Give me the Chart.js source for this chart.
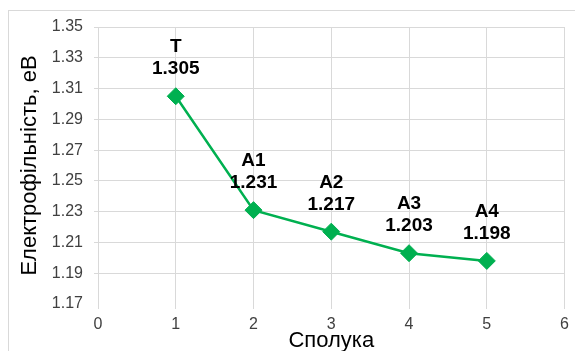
<!DOCTYPE html>
<html>
<head>
<meta charset="utf-8">
<title>Електрофільність</title>
<script src="https://cdn.jsdelivr.net/npm/chart.js@4/dist/chart.umd.min.js"></script>
<style>
  body { margin: 0; background: #fff; }
  canvas { display: block; }
</style>
</head>
<body>
<canvas id="myChart" width="575" height="351"></canvas>
<script>
// compounds and their electrophilicity, eV
const compounds = ['T', 'A1', 'A2', 'A3', 'A4'];
const compoundIndex = [1, 2, 3, 4, 5];
const electrophilicity = [1.305, 1.231, 1.217, 1.203, 1.198];

const FONT = 'Liberation Sans, Arial, sans-serif';
const GREEN = '#00b050';
const GRID = '#d9d9d9';

// light frame around the whole chart (cut off at the right/bottom)
const framePlugin = {
    id: 'frame',
    beforeDraw(chart) {
        const ctx = chart.ctx;
        ctx.save();
        ctx.fillStyle = '#fff';
        ctx.fillRect(0, 0, chart.width, chart.height);
        ctx.strokeStyle = GRID;
        ctx.lineWidth = 1;
        ctx.strokeRect(8.5, 10.5, 700, 500);
        ctx.restore();
    }
};

// two-line labels above each point: compound name and value
const pointLabels = {
    id: 'pointLabels',
    afterDatasetsDraw(chart) {
        const ctx = chart.ctx;
        const meta = chart.getDatasetMeta(0);
        ctx.save();
        ctx.font = 'bold 19px ' + FONT;
        ctx.fillStyle = '#000';
        ctx.textAlign = 'center';
        ctx.textBaseline = 'middle';
        meta.data.forEach((pt, i) => {
            ctx.fillText(compounds[i], pt.x, pt.y - 49);
            ctx.fillText(electrophilicity[i].toFixed(3), pt.x, pt.y - 27);
        });
        ctx.restore();
    }
};

const points = compoundIndex.map((x, i) => ({ x: x, y: electrophilicity[i] }));

new Chart(document.getElementById('myChart').getContext('2d'), {
    type: 'line',
    data: {
        datasets: [{
            data: points,
            borderColor: GREEN,
            backgroundColor: GREEN,
            borderWidth: 2.5,
            pointStyle: 'rectRot',
            pointRadius: 8.5,
            pointBorderWidth: 1,
            pointBackgroundColor: GREEN,
            pointBorderColor: GREEN,
            tension: 0
        }]
    },
    options: {
        responsive: false,
        animation: false,
        layout: { padding: { top: 27, right: 9, left: 0, bottom: 0 } },
        plugins: {
            legend: { display: false },
            tooltip: { enabled: false }
        },
        scales: {
            x: {
                type: 'linear',
                min: 0,
                max: 6,
                afterFit: (scale) => { scale.height = 47; },
                ticks: {
                    stepSize: 1,
                    padding: 6,
                    color: '#404040',
                    font: { family: FONT, size: 16 }
                },
                grid: { color: GRID, lineWidth: 1, tickLength: 5 },
                border: { display: false },
                title: {
                    display: true,
                    text: 'Сполука',
                    color: '#000',
                    font: { family: FONT, size: 22, lineHeight: 1 },
                    padding: { top: 0, bottom: -1 }
                }
            },
            y: {
                min: 1.17,
                max: 1.35,
                afterFit: (scale) => { scale.width = 98; },
                ticks: {
                    stepSize: 0.02,
                    padding: 11,
                    color: '#404040',
                    font: { family: FONT, size: 16 },
                    callback: (v) => v.toFixed(2)
                },
                grid: {
                    color: (c) => (c.tick && c.tick.value < 1.1701) ? 'transparent' : GRID,
                    lineWidth: 1,
                    tickLength: 4
                },
                border: { display: false },
                title: {
                    display: true,
                    text: 'Електрофільність, еВ',
                    color: '#000',
                    font: { family: FONT, size: 22, lineHeight: 1 },
                    padding: { top: 19, bottom: 0 }
                }
            }
        }
    },
    plugins: [framePlugin, pointLabels]
});
</script>
</body>
</html>
